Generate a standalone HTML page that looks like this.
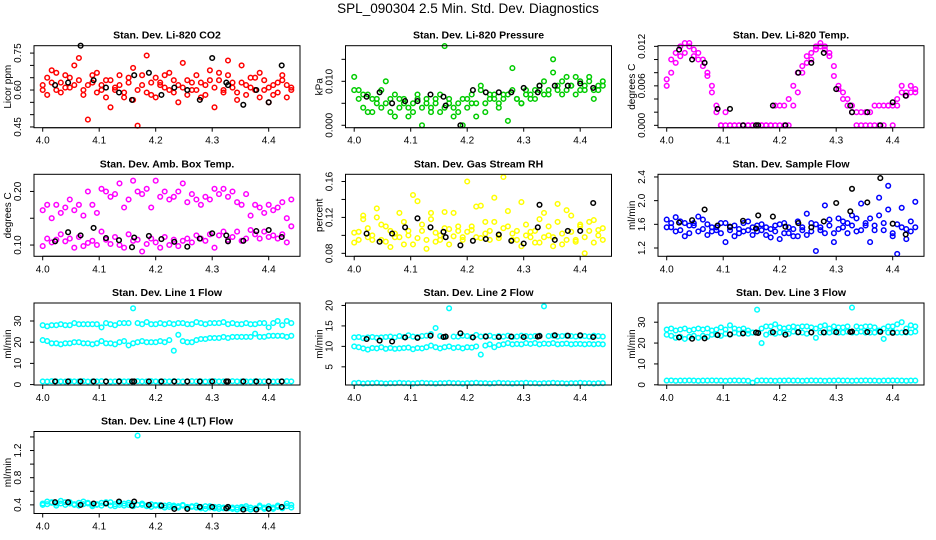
<!DOCTYPE html>
<html><head><meta charset="utf-8"><style>
html,body{margin:0;padding:0;background:#fff;}
svg{display:block;font-family:"Liberation Sans",sans-serif;}
</style></head><body>
<svg id="chart" width="936" height="540" viewBox="0 0 936 540" xmlns="http://www.w3.org/2000/svg">
<rect x="0" y="0" width="936" height="540" fill="#fff"/>
<text x="468" y="13" text-anchor="middle" font-size="13.5">SPL_090304  2.5 Min. Std. Dev. Diagnostics</text>
</svg>
<script>
const times=[4.000,4.008,4.016,4.024,4.032,4.040,4.048,4.056,4.064,4.072,4.080,4.088,4.096,4.104,4.112,4.120,4.128,4.136,4.144,4.152,4.160,4.168,4.176,4.184,4.192,4.200,4.208,4.216,4.224,4.232,4.240,4.248,4.256,4.264,4.272,4.280,4.288,4.296,4.304,4.312,4.320,4.328,4.336,4.344,4.352,4.360,4.368,4.376,4.384,4.392,4.400,4.408,4.416,4.424,4.432,4.440];
const blackTimes=[4.022,4.045,4.067,4.090,4.112,4.135,4.158,4.162,4.188,4.210,4.233,4.256,4.278,4.300,4.325,4.328,4.355,4.378,4.400,4.423];
const xTicks=[4.0,4.1,4.2,4.3,4.4];
const xTickLabels=["4.0","4.1","4.2","4.3","4.4"];

const co2A=[0.62,0.65,0.68,0.60,0.63,0.66,0.61,0.70,0.64,0.58,0.62,0.63,0.67,0.60,0.57,0.64,0.61,0.66,0.59,0.63,0.69,0.60,0.62,0.74,0.58,0.65,0.63,0.61,0.67,0.59,0.62,0.71,0.64,0.60,0.66,0.63,0.58,0.68,0.61,0.64,0.60,0.66,0.63,0.59,0.70,0.62,0.65,0.60,0.67,0.64,0.61,0.58,0.63,0.66,0.62,0.60];
const co2B=[0.60,0.58,0.63,0.67,0.59,0.61,0.65,0.62,0.73,0.60,0.48,0.66,0.59,0.62,0.64,0.53,0.60,0.62,0.57,0.65,0.56,0.455,0.66,0.59,0.63,0.57,0.62,0.66,0.60,0.64,0.55,0.61,0.58,0.63,0.60,0.57,0.62,0.64,0.53,0.67,0.59,0.72,0.61,0.56,0.63,0.58,0.61,0.65,0.57,0.60,0.55,0.62,0.59,0.64,0.57,0.61];
const co2Black=[0.62,0.63,0.78,0.64,0.61,0.59,0.56,0.66,0.67,0.58,0.61,0.60,0.56,0.73,0.63,0.62,0.54,0.60,0.55,0.70];

const presA=[0.008,0.006,0.004,0.007,0.003,0.006,0.008,0.005,0.003,0.007,0.004,0.006,0.002,0.005,0.007,0.004,0.006,0.003,0.005,0.007,0.004,0.006,0.002,0.005,0.006,0.004,0.007,0.005,0.008,0.003,0.006,0.007,0.005,0.006,0.007,0.008,0.006,0.005,0.007,0.006,0.008,0.009,0.007,0.008,0.012,0.009,0.010,0.008,0.009,0.011,0.008,0.009,0.010,0.008,0.009,0.010];
const presB=[0.011,0.008,0.007,0.003,0.006,0.005,0.004,0.010,0.006,0.002,0.006,0.005,0.004,0.003,0.006,0.000,0.005,0.004,0.006,0.003,0.018,0.005,0.004,0.003,0.000,0.006,0.005,0.002,0.009,0.005,0.007,0.006,0.004,0.007,0.001,0.013,0.006,0.005,0.008,0.007,0.006,0.008,0.010,0.007,0.015,0.008,0.007,0.011,0.009,0.007,0.010,0.008,0.011,0.006,0.008,0.009];
const presBlack=[0.0065,0.0075,0.005,0.0055,0.0055,0.007,0.0065,0.0045,0.0,0.008,0.0075,0.0075,0.0075,0.0085,0.0075,0.009,0.009,0.009,0.0095,0.0085];

const tempA=[0.007,0.010,0.011,0.012,0.0125,0.012,0.0115,0.011,0.010,0.008,0.006,0.003,0,0,0,0,0,0,0,0,0,0,0,0,0.003,0.003,0.003,0.004,0.006,0.008,0.009,0.0105,0.011,0.0115,0.012,0.0115,0.011,0.009,0.006,0.005,0.004,0.003,0.002,0.002,0,0,0,0,0.003,0.003,0.003,0.004,0.005,0.005,0.005,0.0055];
const tempB=[0.006,0.008,0.0095,0.0105,0.011,0.0125,0.0105,0.010,0.009,0.0075,0.005,0.002,0,0.002,0,0,0,0,0,0,0,0,0,0,0,0,0,0,0.003,0.005,0.008,0.0095,0.010,0.012,0.0125,0.012,0.0105,0.0075,0.0055,0.004,0.003,0.002,0,0,0.002,0.002,0.003,0.003,0,0.003,0,0.003,0.006,0.0045,0.006,0.005];
const tempBlack=[0.0115,0.010,0.0095,0.0025,0.0025,0,0,0,0.003,0,0.008,0.0095,0.011,0.0055,0.003,0.002,0.002,0,0.0035,0.0045];

const ambA=[0.165,0.175,0.15,0.175,0.16,0.17,0.185,0.165,0.175,0.155,0.200,0.175,0.16,0.205,0.200,0.190,0.195,0.215,0.17,0.185,0.22,0.200,0.195,0.205,0.17,0.22,0.19,0.200,0.185,0.19,0.200,0.215,0.180,0.195,0.185,0.175,0.19,0.185,0.205,0.195,0.205,0.190,0.200,0.180,0.175,0.195,0.155,0.175,0.17,0.160,0.175,0.165,0.170,0.180,0.150,0.185];
const ambB=[0.098,0.112,0.105,0.110,0.12,0.107,0.112,0.095,0.115,0.098,0.104,0.108,0.100,0.125,0.110,0.102,0.115,0.100,0.095,0.120,0.108,0.110,0.088,0.102,0.112,0.105,0.095,0.115,0.100,0.110,0.098,0.108,0.112,0.105,0.118,0.112,0.108,0.120,0.095,0.118,0.125,0.110,0.115,0.125,0.108,0.112,0.128,0.120,0.112,0.125,0.115,0.118,0.112,0.120,0.105,0.135];
const ambBlack=[0.107,0.124,0.118,0.132,0.113,0.109,0.096,0.114,0.117,0.111,0.106,0.097,0.112,0.122,0.118,0.107,0.108,0.126,0.128,0.115];

const rhA=[0.092,0.104,0.122,0.098,0.100,0.130,0.095,0.110,0.087,0.102,0.098,0.115,0.100,0.090,0.138,0.105,0.095,0.118,0.093,0.100,0.126,0.107,0.099,0.110,0.095,0.160,0.106,0.098,0.133,0.102,0.095,0.115,0.097,0.165,0.110,0.102,0.095,0.137,0.100,0.104,0.092,0.118,0.098,0.110,0.088,0.135,0.102,0.095,0.122,0.093,0.110,0.080,0.105,0.117,0.100,0.095];
const rhB=[0.103,0.095,0.118,0.108,0.095,0.120,0.112,0.093,0.105,0.098,0.125,0.090,0.105,0.145,0.097,0.112,0.085,0.125,0.103,0.095,0.108,0.090,0.125,0.105,0.098,0.104,0.110,0.132,0.097,0.115,0.105,0.142,0.100,0.108,0.127,0.095,0.105,0.088,0.112,0.098,0.105,0.092,0.125,0.100,0.098,0.115,0.090,0.128,0.104,0.095,0.112,0.098,0.115,0.092,0.106,0.108];
const rhBlack=[0.102,0.093,0.102,0.109,0.119,0.109,0.104,0.098,0.089,0.094,0.096,0.101,0.094,0.091,0.109,0.134,0.095,0.105,0.105,0.136];

const flowA=[1.68,1.55,1.72,1.50,1.62,1.45,1.58,1.73,1.52,1.60,1.48,1.55,1.62,1.30,1.50,1.58,1.45,1.62,1.50,1.55,1.48,1.60,1.42,1.52,1.58,1.35,1.62,1.45,1.52,1.40,1.55,1.78,1.48,1.60,1.50,1.92,1.58,1.45,1.70,1.55,1.62,1.75,1.48,1.95,1.58,1.70,1.50,2.05,1.62,1.85,1.45,1.60,1.88,1.52,1.65,1.98];
const flowB=[1.55,1.62,1.48,1.65,1.40,1.58,1.62,1.48,1.68,1.42,1.55,1.50,1.45,1.62,1.55,1.40,1.52,1.48,1.65,1.42,1.58,1.50,1.55,1.38,1.48,1.60,1.45,1.55,1.40,1.65,1.50,1.42,1.62,1.15,1.55,1.45,1.68,1.30,1.52,1.65,1.45,1.58,1.70,1.50,1.62,1.30,1.58,1.75,1.50,2.25,1.40,1.10,1.55,1.35,1.48,1.55];
const flowBlack=[1.63,1.67,1.85,1.58,1.56,1.66,1.53,1.75,1.73,1.56,1.62,1.55,1.65,1.96,1.82,2.20,1.97,2.38,1.61,1.43];

const l1Top=[28,27.5,28,28,28.5,28,28,29,28.5,28.5,28.5,28.5,28.5,27,29,28.5,28,29,29,29,36,29,28.5,29.5,28.5,28.5,29,28.5,29,28.5,29,29,28.5,28.5,29.5,29,28.5,29,29,29,29.5,28.5,29,28.5,28.5,29,28.5,28.5,29,29,27,29,30,28,30,29];
const l1Mid=[21,20.5,19.5,19.5,19,19.5,19.5,20,20,19.5,19.5,19,19.5,20.5,19.5,19.5,19,20,20.5,18.5,19.5,20,20.5,20,20,20,20.5,20,21,16,23.5,20.5,20,20,21,21.5,21.5,22,22,22,22.5,22,22.5,22.5,22.5,22.5,22.5,24,22.5,22.5,23,23,23,23,22.5,23];
const l1Low=[1.5,1.4,1.6,1.5,1.5,1.4,1.6,1.5,1.5,1.6,1.4,1.5,1.5,1.6,1.5,1.4,1.5,1.6,1.5,1.5,1.4,1.6,1.5,1.5,1.6,1.5,1.4,1.5,1.5,1.6,1.5,1.4,1.5,1.6,1.5,1.5,1.4,1.5,1.6,1.5,1.5,1.4,1.6,1.5,1.5,1.5,1.4,1.6,1.5,1.5,1.6,1.4,1.5,1.5,1.6,1.5];
const l1Black=[1.5,1.5,1.5,1.5,1.5,1.5,1.5,1.5,1.5,1.5,1.5,1.5,1.5,1.5,1.5,1.5,1.5,1.5,1.5,1.5];

const l2Top=[12.2,12.3,12,12.2,12.3,12.1,12.2,12.3,12.4,12.2,12.5,12.3,12.7,12.4,12.3,12.5,12.6,13,14.5,12.5,12.3,19.3,12.4,12.4,12.6,12.5,12.3,12.8,12.4,12.5,12.6,12.3,12.5,12.4,12.6,12.3,12.4,12.6,12.5,12.4,12.5,12.6,19.8,12.5,12.6,12.4,12.5,12.6,12.5,12.4,12.5,12.5,12.4,12.6,12.5,12.4];
const l2Mid=[10,9.8,9.5,9.2,9.6,9.5,9.8,9.4,9.6,9.4,9.5,9.6,9.7,9.3,9.6,9.5,9.8,10.2,9.8,9.5,9.8,10,9.6,9.8,9.5,9.8,9.7,10,8,10.2,10.5,9.8,10.3,10.5,10.8,10.5,10.6,10.5,10.8,10.6,10.8,10.5,10.7,10.6,10.8,10.5,10.6,10.7,10.5,10.6,10.6,10.5,10.6,10.5,10.6,10.5];
const l2Low=[1,1.1,0.9,1,1,1.1,1,0.9,1,1,1.1,1,1,0.9,1,1.1,1,1,0.9,1,1,1.1,1,1,0.9,1,1,1.1,1,1,0.9,1,1.1,1,1,0.9,1,1,1.1,1,1,0.9,1,1,1.1,1,1,0.9,1,1,1.1,1,1,0.9,1,1];
const l2Black=[11.8,11.4,11.2,12.2,12.1,12.6,12.3,12.4,13.2,12.2,12.4,12.3,12.4,12.3,12.4,12.5,12.7,12.6,12.7,12.3];

const l3Top=[26.5,27,26,26.5,27,26,26.5,27,26.5,27,26,26.5,27.5,26.5,28.5,27,26.5,27,26,25,36,27,28,28,29,27.5,27,27.5,28,27.5,28,28,27.5,27,28,28.5,27,28,27.5,27.5,28,37,28,27.5,28,28,27.5,26,27,28,28,29,30,27,28.5,28];
const l3Mid=[24,23.5,22.5,23,22,23,23.5,22.5,23.5,23,24,24,23.5,24.5,24,25,24.5,25,24.5,25,25,20,24,25,24.5,25,25,24.5,25.5,25,25,24.5,25,22.5,25,25,25,25.5,25,25,25.5,25,25,25.5,25,25,25,25.5,22,25,25.5,25,25,25,25,25.5];
const l3Low=[2,2.1,1.9,2,2,2.1,2,1.9,2,2,2.1,2,2,1.9,2,2.1,2,2,1.9,1,2,2.1,2,2,1.9,2,2,2.1,2,2,1.9,2,2.1,2,2,1.9,2,2,2.1,2,2,1.9,2,2,2.1,2,2,1.9,2,2,2.1,2,2,1.9,2,2];
const l3Black=[22.7,22.1,22.3,23.8,24.2,24.6,25,24.8,25.2,24,25.2,25.1,25.1,25.2,25.3,25.5,25.3,25.4,24.9,25.3];

const l4A=[0.42,0.45,0.43,0.42,0.46,0.44,0.42,0.41,0.43,0.45,0.42,0.40,0.41,0.43,0.42,0.44,0.41,0.40,0.42,0.43,0.41,1.42,0.40,0.39,0.41,0.40,0.38,0.39,0.40,0.37,0.38,0.39,0.37,0.38,0.36,0.37,0.38,0.36,0.35,0.37,0.36,0.35,0.34,0.36,0.37,0.35,0.36,0.34,0.37,0.36,0.35,0.36,0.37,0.36,0.38,0.40];
const l4B=[0.40,0.41,0.44,0.39,0.42,0.40,0.44,0.40,0.39,0.41,0.43,0.38,0.40,0.39,0.44,0.39,0.38,0.43,0.39,0.40,0.38,0.40,0.42,0.38,0.37,0.39,0.40,0.36,0.37,0.39,0.36,0.40,0.35,0.37,0.39,0.35,0.34,0.38,0.37,0.34,0.35,0.37,0.36,0.33,0.35,0.38,0.33,0.35,0.39,0.34,0.38,0.34,0.39,0.35,0.42,0.36];
const l4Black=[0.44,0.44,0.40,0.42,0.42,0.45,0.39,0.45,0.40,0.39,0.34,0.34,0.37,0.37,0.35,0.37,0.33,0.33,0.34,0.37];

const svg=document.getElementById('chart');
const NS='http://www.w3.org/2000/svg';
const colLeft=[34,345.5,658], rowTop=[45.7,174.3,303,431.5], W=266, H=82;
const xDom=[3.9846,4.4554];

const panels=[
 {name:'co2',title:'Stan. Dev. Li-820 CO2',ylab:'Licor ppm',col:0,row:0,dom:[0.447,0.78],color:'#ff0000',series:[co2A,co2B],black:co2Black,ticks:[0.45,0.5,0.55,0.6,0.65,0.7,0.75],labels:['0.45','','','0.60','','','0.75']},
 {name:'pressure',title:'Stan. Dev. Li-820 Pressure',ylab:'kPa',col:1,row:0,dom:[-0.00055,0.0181],color:'#00cc00',series:[presA,presB],black:presBlack,ticks:[0,0.005,0.01,0.015],labels:['0.000','','0.010','']},
 {name:'temp',title:'Stan. Dev. Li-820 Temp.',ylab:'degrees C',col:2,row:0,dom:[-0.00036,0.0121],color:'#ff00ff',series:[tempA,tempB],black:tempBlack,ticks:[0,0.002,0.004,0.006,0.008,0.01,0.012],labels:['0.000','','','0.006','','','0.012']},
 {name:'amb-box-temp',title:'Stan. Dev. Amb. Box Temp.',ylab:'degrees C',col:0,row:1,dom:[0.079,0.232],color:'#ff00ff',series:[ambA,ambB],black:ambBlack,ticks:[0.1,0.15,0.2],labels:['0.10','','0.20']},
 {name:'gas-rh',title:'Stan. Dev. Gas Stream RH',ylab:'percent',col:1,row:1,dom:[0.0767,0.168],color:'#ffff00',series:[rhA,rhB],black:rhBlack,ticks:[0.08,0.1,0.12,0.14,0.16],labels:['0.08','','0.12','','0.16']},
 {name:'sample-flow',title:'Stan. Dev. Sample Flow',ylab:'ml/min',col:2,row:1,dom:[1.06,2.445],color:'#0000ff',series:[flowA,flowB],black:flowBlack,ticks:[1.2,1.6,2.0,2.4],labels:['1.2','1.6','2.0','2.4']},
 {name:'line1-flow',title:'Stan. Dev. Line 1 Flow',ylab:'ml/min',col:0,row:2,dom:[-0.2,38.5],color:'#00ffff',series:[l1Top,l1Mid,l1Low],black:l1Black,ticks:[0,10,20,30],labels:['0','10','20','30']},
 {name:'line2-flow',title:'Stan. Dev. Line 2 Flow',ylab:'ml/min',col:1,row:2,dom:[0.56,20.6],color:'#00ffff',series:[l2Top,l2Mid,l2Low],black:l2Black,ticks:[5,10,15,20],labels:['5','10','15','20']},
 {name:'line3-flow',title:'Stan. Dev. Line 3 Flow',ylab:'ml/min',col:2,row:2,dom:[-0.1,39.2],color:'#00ffff',series:[l3Top,l3Mid,l3Low],black:l3Black,ticks:[0,10,20,30],labels:['0','10','20','30']},
 {name:'line4-flow',title:'Stan. Dev. Line 4 (LT) Flow',ylab:'ml/min',col:0,row:3,dom:[0.273,1.48],color:'#00ffff',series:[l4A,l4B],black:l4Black,ticks:[0.4,0.6,0.8,1.0,1.2,1.4],labels:['0.4','','0.8','','1.2','']}
];

function mk(tag,attrs,parent){const e=document.createElementNS(NS,tag);for(const k in attrs)e.setAttribute(k,attrs[k]);parent.appendChild(e);return e;}

panels.forEach(p=>{
 const L=colLeft[p.col], T=rowTop[p.row];
 const xs=v=>L+(v-xDom[0])/(xDom[1]-xDom[0])*W;
 const ys=v=>T+H-(v-p.dom[0])/(p.dom[1]-p.dom[0])*H;
 const g=mk('g',{},svg);
 
 
 const t=mk('text',{x:L+W/2,y:T-7,'text-anchor':'middle','font-size':'10.5','font-weight':'bold'},g);
 t.textContent=p.title;
 
 
 const pts=mk('g',{fill:'none','stroke-width':'1.5'},g);
 
 
 p.series.forEach(s=>{
  s.forEach((v,i)=>{
   const c=mk('circle',{cx:xs(times[i]).toFixed(1),cy:ys(v).toFixed(1),r:'2.3',stroke:p.color},pts);
   
   
  });
 });
 p.black.forEach((v,i)=>{
  const c=mk('circle',{cx:xs(blackTimes[i]).toFixed(1),cy:ys(v).toFixed(1),r:'2.3',stroke:'#000'},pts);
  
  
 });
 const box=mk('rect',{x:L,y:T,width:W,height:H,fill:'none',stroke:'#000','stroke-width':'1'},g);
 
 
 const xa=mk('g',{},g);
 
 
 mk('line',{x1:xs(xTicks[0]),x2:xs(xTicks[xTicks.length-1]),y1:T+H,y2:T+H,stroke:'#000'},xa);
 xTicks.forEach((v,i)=>{
  mk('line',{x1:xs(v),x2:xs(v),y1:T+H,y2:T+H+4,stroke:'#000'},xa);
  const tl=mk('text',{x:xs(v),y:T+H+16,'text-anchor':'middle','font-size':'10'},xa);
  tl.textContent=xTickLabels[i];
  
  
 });
 const ya=mk('g',{},g);
 
 
 mk('line',{x1:L,x2:L,y1:ys(p.ticks[0]),y2:ys(p.ticks[p.ticks.length-1]),stroke:'#000'},ya);
 p.ticks.forEach((v,i)=>{
  const y=ys(v);
  mk('line',{x1:L-4,x2:L,y1:y,y2:y,stroke:'#000'},ya);
  if(p.labels[i]){
   const tl=mk('text',{x:L-13,y:y,'text-anchor':'middle','font-size':'10',transform:`rotate(-90 ${L-13} ${y})`},ya);
   tl.textContent=p.labels[i];
   
   
  }
 });
 const yl=mk('text',{x:L-23,y:T+H/2,'text-anchor':'middle','font-size':'10',transform:`rotate(-90 ${L-23} ${T+H/2})`},g);
 yl.textContent=p.ylab;
 
 
});
</script>
</body></html>
